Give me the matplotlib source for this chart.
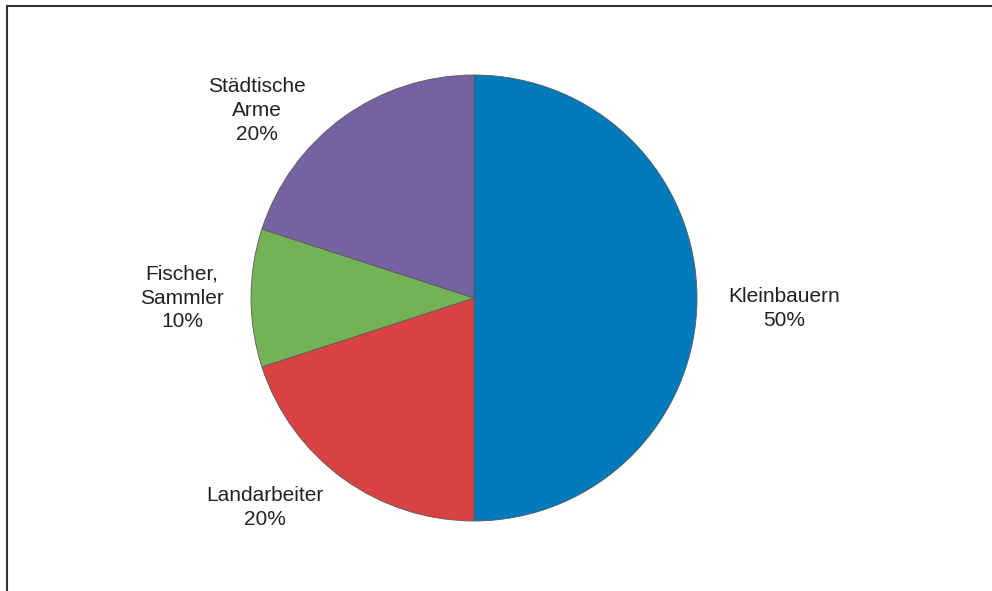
import matplotlib.pyplot as plt
from matplotlib.lines import Line2D

# Data
labels = ['Kleinbauern', 'Landarbeiter', 'Fischer,\nSammler', 'Städtische\nArme']
shares = [50, 20, 10, 20]
colors = ['#007ABA', '#D84242', '#73B356', '#7562A1']
# label anchor points (in pie radius units)
label_pos = [(1.39, -0.048), (-0.937, -0.938), (-1.309, 0.0), (-0.975, 0.839)]

plt.rcParams['font.family'] = ['Liberation Sans', 'DejaVu Sans']

fig = plt.figure(figsize=(9.92, 5.91), dpi=100)
W, H = 992, 591
cx, cy, r = 474, 298, 223
ax = fig.add_axes([(cx - r) / W, (H - cy - r) / H, 2 * r / W, 2 * r / H])

ax.pie(shares, colors=colors, startangle=90, counterclock=False, radius=1,
       wedgeprops=dict(edgecolor='#5a5a5a', linewidth=0.6))
ax.set_xlim(-1, 1)
ax.set_ylim(-1, 1)
ax.set_aspect('equal')
ax.axis('off')

for lab, val, (x, y) in zip(labels, shares, label_pos):
    ax.text(x, y, f'{lab}\n{val}%', ha='center', va='center', fontsize=15,
            color='#222222', linespacing=1.33, clip_on=False)

# frame lines (top and left only)
fig.add_artist(Line2D([6.5 / W, 1], [1 - 5.5 / H, 1 - 5.5 / H], transform=fig.transFigure,
                      color='#333333', linewidth=1.5))
fig.add_artist(Line2D([6.5 / W, 6.5 / W], [0, 1 - 5.5 / H], transform=fig.transFigure,
                      color='#333333', linewidth=1.5))

fig.savefig('out.png', dpi=100)
